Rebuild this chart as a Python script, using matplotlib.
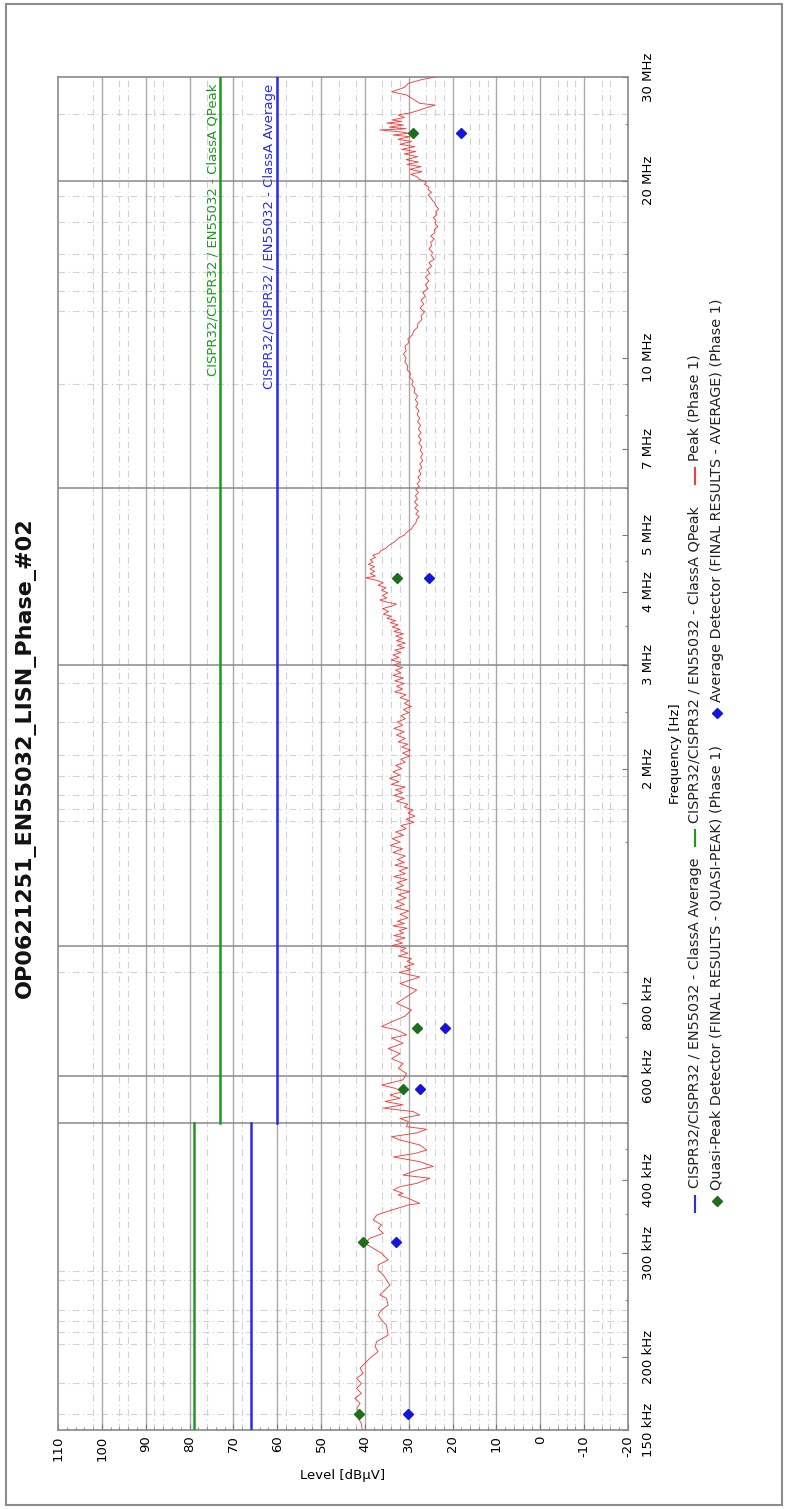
import matplotlib
matplotlib.use("Agg")
import matplotlib.pyplot as plt
from matplotlib.lines import Line2D
from matplotlib.patches import Rectangle
from matplotlib.ticker import FixedLocator, NullFormatter

W, H, DPI = 788, 1509, 100

title = "OP0621251_EN55032_LISN_Phase_#02"

# Peak trace (frequency in MHz, level in dBuV)
peak_freq_mhz = [
    0.150, 0.1539, 0.1570, 0.1601, 0.1633, 0.1665, 0.1698, 0.1731, 0.1766, 0.1800,
    0.1836, 0.1873, 0.1910, 0.1948, 0.1986, 0.2039, 0.2080, 0.2121, 0.2175, 0.2218,
    0.2262, 0.2307, 0.2353, 0.2400, 0.2447, 0.2513, 0.2545, 0.2596, 0.2646, 0.2700,
    0.2753, 0.2807, 0.2863, 0.2919, 0.2997, 0.3056, 0.3116, 0.3177, 0.3240, 0.3304,
    0.3348, 0.3414, 0.3482, 0.3549, 0.3621, 0.3643, 0.3715, 0.3766,
    0.379, 0.384, 0.389, 0.394, 0.402, 0.407, 0.415, 0.421, 0.429, 0.437,
    0.443, 0.449, 0.458, 0.467, 0.473, 0.480, 0.487, 0.492, 0.502, 0.508,
    0.515, 0.522, 0.529, 0.536, 0.543, 0.550, 0.557, 0.564, 0.572, 0.579,
    0.591, 0.606, 0.618, 0.630, 0.642, 0.655, 0.668, 0.682, 0.696, 0.705,
    0.719, 0.728, 0.742, 0.758, 0.777, 0.798, 0.818, 0.840, 0.862, 0.884,
    0.90, 0.91, 0.92, 0.93, 0.94, 0.95, 0.96, 0.97, 0.98, 0.99,
    1.00, 1.01, 1.02, 1.03, 1.04, 1.05, 1.06, 1.07, 1.08, 1.09,
    1.10, 1.115, 1.13, 1.145, 1.16, 1.175, 1.19, 1.205, 1.22, 1.235,
    1.25, 1.265, 1.28, 1.295, 1.31, 1.325, 1.34, 1.355, 1.37, 1.385,
    1.40, 1.42, 1.44, 1.46, 1.48, 1.50, 1.52, 1.54, 1.56, 1.58,
    1.60, 1.62, 1.64, 1.66, 1.68, 1.70, 1.72, 1.74, 1.76, 1.78,
    1.80, 1.82, 1.84, 1.86, 1.88, 1.90, 1.925, 1.95, 1.975, 2.00,
    2.025, 2.05, 2.075, 2.10, 2.125, 2.15, 2.175, 2.20,
    2.22, 2.25, 2.28, 2.31, 2.34, 2.37, 2.40, 2.43, 2.46, 2.49,
    2.52, 2.55, 2.58, 2.61, 2.64, 2.67, 2.70, 2.73, 2.76, 2.79,
    2.82, 2.85, 2.88, 2.91, 2.94, 2.97, 3.00, 3.03, 3.06, 3.09,
    3.12, 3.15, 3.18, 3.21, 3.24, 3.27, 3.30, 3.33, 3.36, 3.39,
    3.42, 3.45, 3.48, 3.51, 3.54, 3.57, 3.60, 3.63, 3.66, 3.70,
    3.74, 3.78, 3.81, 3.84, 3.87, 3.90, 3.94, 3.98, 4.02, 4.06,
    4.10, 4.14, 4.18, 4.22, 4.25, 4.29, 4.33, 4.37, 4.41, 4.45,
    4.49, 4.53, 4.57, 4.61, 4.65, 4.69, 4.74, 4.79, 4.84, 4.89,
    4.94, 4.99, 5.05, 5.11, 5.17, 5.23, 5.30,
    5.36, 5.42, 5.48, 5.55, 5.61, 5.68, 5.75, 5.82, 5.89, 5.96,
    6.03, 6.10, 6.18, 6.26, 6.34, 6.42, 6.50, 6.59, 6.68, 6.77,
    6.86, 6.95, 7.05, 7.15, 7.25, 7.35, 7.45, 7.56, 7.67, 7.78,
    7.89, 8.00, 8.12, 8.24, 8.36, 8.48, 8.60, 8.73, 8.86, 8.99,
    9.12, 9.26, 9.40, 9.54, 9.68, 9.83, 9.98, 10.13, 10.28, 10.44,
    10.60, 10.76, 10.92, 11.09, 11.26, 11.43, 11.60, 11.78, 11.96, 12.14,
    12.33, 12.52, 12.71, 12.90,
    13.10, 13.30, 13.50, 13.70, 13.90, 14.10, 14.30, 14.50, 14.70, 14.90,
    15.10, 15.30, 15.50, 15.70, 15.90, 16.10, 16.30, 16.50, 16.70, 16.90,
    17.10, 17.30, 17.50, 17.70, 17.90, 18.10, 18.30, 18.50, 18.70, 18.90,
    19.10, 19.30, 19.50, 19.70, 19.90, 20.10,
    20.31, 20.5, 20.7, 20.9, 21.12, 21.3, 21.5, 21.7, 21.96, 22.2,
    22.4, 22.6, 22.84, 23.05, 23.3, 23.5, 23.75, 23.9, 24.07, 24.2,
    24.38, 24.5, 24.65, 24.86, 25.05, 25.2, 25.35, 25.6, 25.85, 26.1,
    26.36, 26.6, 26.88, 27.06, 27.5, 27.96, 28.31, 28.8, 29.27, 29.7,
    30.0,
]
peak_level = [
    40.6, 40.8, 41.5, 41.1, 41.9, 41.1, 42.3, 40.8, 41.9, 40.8,
    41.9, 40.4, 41.1, 40.0, 38.9, 37.0, 37.7, 37.3, 34.7, 34.9,
    35.1, 36.2, 37.0, 36.2, 34.7, 35.1, 36.6, 35.4, 34.3, 35.1,
    35.8, 37.0, 37.0, 34.7, 36.2, 38.1, 40.0, 38.9, 35.8, 37.0,
    36.2, 38.1, 37.3, 33.9, 30.1, 27.5, 30.1, 32.4,
    31.3, 33.5, 32.0, 28.2, 25.2, 31.3, 28.2, 24.4, 27.5, 33.5,
    28.6, 25.9, 27.5, 32.0, 33.9, 28.2, 25.9, 30.5, 30.1, 32.0,
    27.5, 29.0, 35.8, 31.3, 35.4, 32.0, 34.3, 31.3, 33.2, 36.2,
    31.3, 30.5, 32.4, 31.3, 33.9, 32.0, 34.7, 31.3, 33.9, 30.5,
    32.8, 36.2, 33.9, 30.9, 29.4, 32.8, 30.5, 28.2, 32.0, 27.5,
    32.2, 29.6, 31.0, 28.8, 30.4, 29.4, 32.4, 30.2, 31.8, 30.6,
    33.8, 31.4, 33.0, 30.8, 33.4, 31.2, 32.2, 30.4, 33.6, 31.0,
    32.6, 30.2, 32.0, 30.0, 33.2, 31.0, 32.8, 30.6, 32.4, 29.8,
    33.0, 31.2, 32.6, 30.4, 33.4, 30.8, 32.2, 30.2, 33.2, 31.0,
    32.6, 30.8, 33.6, 31.4, 34.2, 32.0, 33.8, 31.2, 33.0, 30.6,
    31.8, 28.8, 30.6, 28.6, 30.2, 29.0, 31.0, 30.2, 32.8, 31.0,
    33.4, 31.4, 33.0, 30.8, 34.0, 32.2, 34.4, 32.0, 33.6, 31.6,
    33.0, 30.8, 31.8, 29.8, 31.4, 29.6, 31.6, 30.2,
    32.4, 30.8, 32.8, 31.0, 33.4, 31.4, 32.6, 30.8, 31.8, 30.0,
    31.2, 29.4, 31.0, 30.0, 32.0, 30.6, 33.2, 31.4, 32.8, 31.0,
    33.2, 31.2, 33.6, 31.8, 33.0, 31.4, 33.4, 31.8, 34.0, 32.2,
    33.6, 31.8, 33.2, 31.0, 32.6, 30.8, 32.8, 31.4, 33.0, 31.2,
    33.4, 32.0, 33.8, 32.4, 34.2, 33.0, 35.0, 34.0, 35.8, 34.6,
    36.0, 33.8, 32.8, 35.2, 36.6, 35.0, 36.0, 34.8, 36.2, 35.2,
    37.0, 35.8, 37.4, 39.8, 37.6, 38.8, 37.8, 38.8, 37.8, 39.2,
    38.2, 38.8, 37.6, 38.2, 36.8, 36.4, 35.2, 34.6, 33.6, 32.8,
    32.2, 31.0, 30.4, 29.4, 29.0, 28.4, 28.2,
    27.6, 28.4, 27.8, 28.6, 28.0, 28.7, 28.0, 28.5, 27.8, 28.4,
    27.6, 28.1, 27.4, 27.9, 27.2, 27.7, 27.0, 27.5, 26.8, 27.3,
    26.8, 27.4, 27.0, 27.7, 27.2, 27.8, 27.2, 27.8, 27.3, 28.0,
    27.5, 28.1, 27.7, 28.4, 27.9, 28.5, 28.0, 28.8, 28.6, 29.3,
    29.0, 29.8, 29.6, 30.4, 30.2, 30.9, 30.6, 31.2, 30.6, 30.9,
    30.0, 30.2, 29.2, 28.9, 28.0, 27.9, 27.0, 27.2, 26.4, 27.4,
    26.6, 27.2, 26.2, 26.8,
    25.6, 26.2, 25.4, 26.2, 25.2, 25.8, 24.8, 25.4, 24.2, 24.8,
    24.6, 25.4, 24.8, 25.0, 24.2, 25.0, 24.0, 24.2, 23.4, 24.0,
    23.8, 24.4, 23.6, 23.8, 23.2, 23.8, 24.0, 24.6, 25.0, 25.6,
    24.8, 25.6, 25.4, 26.4, 26.0, 27.6,
    28.2, 29.6, 27.0, 29.8, 27.2, 30.4, 27.8, 30.6, 28.0, 31.0,
    28.4, 31.6, 28.6, 32.0, 29.4, 32.4, 29.8, 33.6, 30.0, 32.0,
    36.6, 30.6, 34.4, 31.2, 35.0, 31.6, 33.8, 31.0, 32.4, 29.4,
    27.5, 26.0, 24.0, 27.5, 29.0, 30.5, 33.9, 31.0, 30.1, 27.0,
    24.0,
]

# Final measurement results
qp_freq_mhz = [0.160, 0.3135, 0.570, 0.725, 4.21, 24.1]
qp_level = [41.3, 40.4, 31.3, 28.2, 32.6, 29.0]
avg_freq_mhz = [0.160, 0.3135, 0.570, 0.725, 4.21, 24.1]
avg_level = [30.1, 32.8, 27.4, 21.7, 25.4, 18.1]

# Class A limit lines (two ranges each)
lim_freq_lo = [0.15, 0.5]
lim_freq_hi = [0.5, 30.0]
lim_qp_lo, lim_qp_hi = [79, 79], [73, 73]
lim_av_lo, lim_av_hi = [66, 66], [60, 60]

qp_limit_name = "CISPR32/CISPR32 / EN55032 - ClassA QPeak"
av_limit_name = "CISPR32/CISPR32 / EN55032 - ClassA Average"

level_ticks = [110, 100, 90, 80, 70, 60, 50, 40, 30, 20, 10, 0, -10, -20]
freq_ticks_mhz = [0.15, 0.2, 0.3, 0.4, 0.6, 0.8, 2, 3, 4, 5, 7, 10, 20, 30]
freq_tick_labels = ["150 kHz", "200 kHz", "300 kHz", "400 kHz", "600 kHz", "800 kHz",
                    "2 MHz", "3 MHz", "4 MHz", "5 MHz", "7 MHz", "10 MHz", "20 MHz", "30 MHz"]

# grid helpers
freq_major_grid = [0.5, 0.6, 1.0, 3.0, 6.0, 20.0]
freq_dash_grid = [0.16, 0.18, 0.21, 0.22, 0.23, 0.24, 0.27, 0.28, 0.90, 1.63, 1.71,
                  1.80, 1.94, 2.11, 2.4, 2.8, 9.0, 12.0, 13.0, 14.0, 15.0, 17.0, 18.8, 26.0]
level_dash_grid = [102, 96, 94, 88, 86, 76, 68, 58, 52, 46, 42, 36, 34, 32, 26, 24, 22,
                   16, 14, 12, 6, 4, 2, -4, -6, -8, -14, -16]

GREEN = "#1c9a1c"
BLUE = "#2b2bea"
RED = "#f04040"
QP_MARK = "#1d6f1d"
AV_MARK = "#1515d8"

plt.rcParams["font.family"] = ["DejaVu Sans"]

fig = plt.figure(figsize=(W / DPI, H / DPI), dpi=DPI)
fig.patch.set_facecolor("white")

# outer frame
fig.add_artist(Rectangle((6 / W, 1 - 1505 / H), 776 / W, 1501 / H, transform=fig.transFigure,
                         fill=False, edgecolor="#8c8c8c", lw=1.5))

ax = fig.add_axes([58 / W, 1 - 1430 / H, 570 / W, 1353 / H])
ax.set_yscale("log")
ax.set_xlim(110, -20)
ax.set_ylim(0.15, 30)

for f in freq_dash_grid:
    ax.axhline(f, color="#d2d2d2", lw=0.8, ls=(0, (6, 3, 1, 3)), zorder=0)
for v in level_dash_grid:
    ax.axvline(v, color="#d2d2d2", lw=0.8, ls=(0, (6, 3, 1, 3)), zorder=0)
for v in level_ticks[1:-1]:
    ax.axvline(v, color="#a9a9a9", lw=1.0, zorder=1)
for f in freq_major_grid:
    ax.axhline(f, color="#8a8a8a", lw=1.1, zorder=1)

ax.plot(lim_qp_lo, lim_freq_lo, color=GREEN, lw=1.8, zorder=3)
ax.plot(lim_qp_hi, lim_freq_hi, color=GREEN, lw=1.8, zorder=3)
ax.plot(lim_av_lo, lim_freq_lo, color=BLUE, lw=1.8, zorder=3)
ax.plot(lim_av_hi, lim_freq_hi, color=BLUE, lw=1.8, zorder=3)

ax.text(lim_qp_hi[1] + 0.2, 29.2, qp_limit_name, rotation=90, ha="right", va="top",
        color=GREEN, fontsize=9.5)
ax.text(lim_av_hi[1] + 0.2, 29.2, av_limit_name, rotation=90, ha="right", va="top",
        color=BLUE, fontsize=9.5)

ax.plot(peak_level, peak_freq_mhz, color=RED, lw=0.65, zorder=4)
ax.plot(qp_level, qp_freq_mhz, ls="none", marker="D", ms=5.5, color=QP_MARK, zorder=5)
ax.plot(avg_level, avg_freq_mhz, ls="none", marker="D", ms=5.5, color=AV_MARK, zorder=5)

for side, sp in ax.spines.items():
    sp.set_color("#8a8a8a")
    sp.set_linewidth(1.2)

ax.set_xticks(level_ticks)
ax.set_xticklabels([str(v) for v in level_ticks], rotation=90, fontsize=9.5)
ax.xaxis.set_minor_locator(FixedLocator(list(range(-20, 111, 2))))
ax.tick_params(axis="x", which="major", direction="in", length=4, color="#777777", pad=4)
ax.tick_params(axis="x", which="minor", direction="in", length=2.5, color="#777777")

ax.yaxis.tick_right()
ax.set_yticks(freq_ticks_mhz)
ax.set_yticklabels(freq_tick_labels, rotation=90, va="center", fontsize=9.5)
ax.yaxis.set_minor_locator(FixedLocator([0.25, 0.35, 0.45, 0.5, 0.7, 0.9, 1.0, 1.5, 2.5,
                                         3.5, 4.5, 6, 8, 9, 15, 25]))
ax.yaxis.set_minor_formatter(NullFormatter())
ax.tick_params(axis="y", which="major", direction="in", length=4, color="#777777", pad=10)
ax.tick_params(axis="y", which="minor", direction="in", length=2.5, color="#777777")

ax.set_xlabel("Level [dB\u00b5V]", fontsize=9.5, labelpad=6)
ax.set_ylabel("Frequency [Hz]", fontsize=9.5, rotation=90, labelpad=10)
ax.yaxis.set_label_position("right")

fig.text(25 / W, 1 - 758 / H, title, rotation=90, ha="center", va="center",
         fontsize=16, fontweight="bold", color="#111111")

# legend, drawn in the rotated frame
def legend_line(x, y0, y1, color):
    fig.add_artist(Line2D([x / W, x / W], [1 - y0 / H, 1 - y1 / H], color=color, lw=1.5,
                          transform=fig.transFigure))

def legend_diamond(x, y, color):
    fig.add_artist(Line2D([x / W], [1 - y / H], marker="D", ms=5, color=color, ls="none",
                          transform=fig.transFigure))

def legend_text(x, y, s):
    fig.text(x / W, 1 - y / H, s, rotation=90, ha="center", va="bottom", fontsize=10.4,
             color="#222222")

legend_line(695, 1212, 1196, BLUE)
legend_text(695, 1188, av_limit_name)
legend_line(695, 846, 830, GREEN)
legend_text(695, 823, qp_limit_name)
legend_line(695, 484, 468, RED)
legend_text(695, 461, "Peak (Phase 1)")
legend_diamond(717, 1201, QP_MARK)
legend_text(717, 1190, "Quasi-Peak Detector (FINAL RESULTS - QUASI-PEAK) (Phase 1)")
legend_diamond(717, 713, AV_MARK)
legend_text(717, 702, "Average Detector (FINAL RESULTS - AVERAGE) (Phase 1)")

fig.savefig("out.png", dpi=DPI, facecolor="white")
